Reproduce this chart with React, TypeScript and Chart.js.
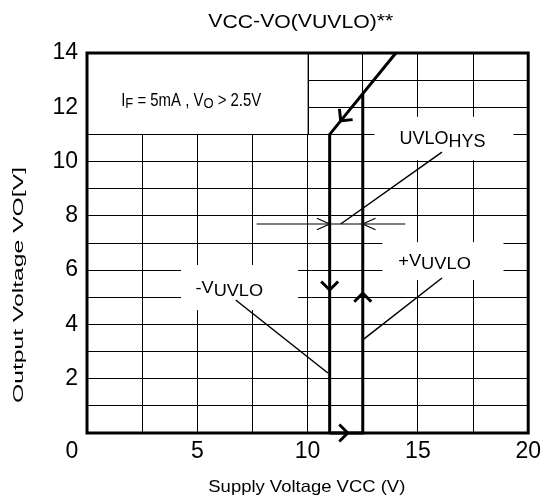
import React, { useEffect, useRef } from 'react';
import { Chart, registerables } from 'chart.js';

Chart.register(...registerables);

const FONT = '"Liberation Sans", Arial, Helvetica, sans-serif';

// ---- data (chart values) ----
const xMin = 0;
const xMax = 20;
const yMin = 0;
const yMax = 14;
const xStep = 2.5;
const yStep = 1;
const xLabelEvery = 5;
const yLabelEvery = 2;

// falling branch (VCC decreasing)
const fallX = [14, 11, 11];
const fallY = [14, 11, 0];
// rising branch (VCC increasing)
const riseX = [11, 12.5, 12.5];
const riseY = [0, 0, 12.5];

// direction arrows on the curve: tip point and direction (data units)
const arrowX = [11, 12.5, 11.82, 11.5];
const arrowY = [5.27, 5.15, 0, 11.5];
const arrowDX = [0, 0, 1, -1];
const arrowDY = [-1, 1, 0, -1];

// hysteresis dimension line
const hysLineX = [7.69, 14.43];
const hysLineY = 7.7;
const hysArrowX = [11, 12.5];
const hysArrowDX = [1, -1];

// leader lines [x1, y1, x2, y2]
const leaderHys = [11.5, 7.7, 16.09, 10.35];
const leaderPlus = [16.09, 5.71, 12.5, 3.43];
const leaderMinus = [6.74, 4.9, 10.92, 2.21];

// condition box
const condBoxX = [0, 10];
const condBoxY = [11, 14];

// text
const titleParts = [
  { t: 'V', sub: false }, { t: 'CC', sub: true }, { t: '-V', sub: false }, { t: 'O', sub: true },
  { t: '(V', sub: false }, { t: 'UVLO', sub: true }, { t: ')**', sub: false },
];
const condParts = [
  { t: 'I', sub: false }, { t: 'F', sub: true }, { t: ' = 5mA , V', sub: false }, { t: 'O', sub: true },
  { t: ' > 2.5V', sub: false },
];
const hysParts = [{ t: 'UVLO', sub: false }, { t: 'HYS', sub: true }];
const plusParts = [{ t: '+V', sub: false }, { t: 'UVLO', sub: true }];
const minusParts = [{ t: '-V', sub: false }, { t: 'UVLO', sub: true }];
const xTitle = 'Supply Voltage VCC (V)';
const yTitle = 'Output Voltage VO[V]';
const originLabel = '0';

type Part = { t: string; sub: boolean };

function drawRich(
  ctx: CanvasRenderingContext2D,
  parts: Part[],
  x: number,
  y: number,
  width: number,
  size: number,
  subScale: number,
  subDy: number,
  rotate = false,
) {
  ctx.save();
  ctx.fillStyle = '#000';
  ctx.textBaseline = 'alphabetic';
  ctx.textAlign = 'left';
  const widths: number[] = [];
  let total = 0;
  for (const p of parts) {
    ctx.font = `${p.sub ? size * subScale : size}px ${FONT}`;
    const w = ctx.measureText(p.t).width;
    widths.push(w);
    total += w;
  }
  ctx.translate(x, y);
  if (rotate) ctx.rotate(-Math.PI / 2);
  ctx.scale(width / total, 1);
  let cx = 0;
  parts.forEach((p, i) => {
    ctx.font = `${p.sub ? size * subScale : size}px ${FONT}`;
    ctx.fillText(p.t, cx, p.sub ? subDy : 0);
    cx += widths[i];
  });
  ctx.restore();
}

function chevron(
  ctx: CanvasRenderingContext2D,
  tx: number,
  ty: number,
  dx: number,
  dy: number,
  len: number,
  half: number,
  lw: number,
) {
  const a = Math.atan2(dy, dx);
  const back = a + Math.PI;
  ctx.save();
  ctx.strokeStyle = '#000';
  ctx.lineWidth = lw;
  ctx.lineJoin = 'miter';
  ctx.lineCap = 'butt';
  ctx.beginPath();
  ctx.moveTo(tx + len * Math.cos(back + half), ty + len * Math.sin(back + half));
  ctx.lineTo(tx, ty);
  ctx.lineTo(tx + len * Math.cos(back - half), ty + len * Math.sin(back - half));
  ctx.stroke();
  ctx.restore();
}

const annotationPlugin = {
  id: 'uvloAnnotations',
  beforeDatasetsDraw(chart: any) {
    const { ctx, scales } = chart;
    const xs = scales.x;
    const ys = scales.y;
    const px = (v: number) => xs.getPixelForValue(v);
    const py = (v: number) => ys.getPixelForValue(v);

    ctx.save();
    // white masks behind labels
    ctx.fillStyle = '#fff';
    const mask = (x1: number, x2: number, y1: number, y2: number) => {
      ctx.fillRect(px(x1), py(y2), px(x2) - px(x1), py(y1) - py(y2));
    };
    mask(13.03, 19.33, 10.05, 11.65);
    mask(13.39, 18.88, 5.64, 7.03);
    mask(4.26, 9.57, 4.53, 6.19);

    // condition box
    const bx = px(condBoxX[0]);
    const by = py(condBoxY[1]);
    const bw = px(condBoxX[1]) - bx;
    const bh = py(condBoxY[0]) - by;
    ctx.fillRect(bx, by, bw, bh);
    ctx.strokeStyle = '#000';
    ctx.lineWidth = 1;
    ctx.strokeRect(Math.round(bx) + 0.5, Math.round(by) + 0.5, Math.round(bw), Math.round(bh));

    drawRich(ctx, condParts, px(1.55), py(12.06), px(7.9) - px(1.55), 17.5, 0.87, 2.7);
    drawRich(ctx, hysParts, px(14.17), py(10.64), px(18.07) - px(14.17), 17.5, 1, 2.7);
    drawRich(ctx, plusParts, px(14.11), py(6.15), px(17.4) - px(14.11), 16.5, 1, 3.3);
    drawRich(ctx, minusParts, px(4.92), py(5.16), px(7.98) - px(4.92), 16.5, 1, 3.4);

    // leader lines
    ctx.strokeStyle = '#000';
    ctx.lineWidth = 1.5;
    for (const l of [leaderHys, leaderPlus, leaderMinus]) {
      ctx.beginPath();
      ctx.moveTo(px(l[0]), py(l[1]));
      ctx.lineTo(px(l[2]), py(l[3]));
      ctx.stroke();
    }
    // hysteresis dimension line + arrows
    ctx.lineWidth = 1.2;
    ctx.beginPath();
    ctx.moveTo(px(hysLineX[0]), py(hysLineY));
    ctx.lineTo(px(hysLineX[1]), py(hysLineY));
    ctx.stroke();
    hysArrowX.forEach((x, i) => {
      chevron(ctx, px(x), py(hysLineY), hysArrowDX[i], 0, 14, (24 * Math.PI) / 180, 1.2);
    });
    ctx.restore();
  },
  afterDatasetsDraw(chart: any) {
    const { ctx, scales, chartArea } = chart;
    const xs = scales.x;
    const ys = scales.y;
    arrowX.forEach((x, i) => {
      const tx = xs.getPixelForValue(x);
      const ty = ys.getPixelForValue(arrowY[i]);
      const dx = xs.getPixelForValue(x + arrowDX[i]) - tx;
      const dy = ys.getPixelForValue(arrowY[i] + arrowDY[i]) - ty;
      chevron(ctx, tx, ty, dx, dy, 12, Math.PI / 4, 3);
    });
    // frame
    ctx.save();
    ctx.strokeStyle = '#000';
    ctx.lineWidth = 3;
    ctx.strokeRect(
      chartArea.left,
      chartArea.top,
      chartArea.right - chartArea.left,
      chartArea.bottom - chartArea.top,
    );
    ctx.restore();
  },
  afterDraw(chart: any) {
    const { ctx } = chart;
    // title
    drawRich(ctx, titleParts, 208.3, 26.7, 185, 19, 1, 1.7);
    // axis titles
    drawRich(ctx, [{ t: xTitle, sub: false }], 208.3, 491.7, 197, 16.5, 1, 0);
    drawRich(ctx, [{ t: yTitle, sub: false }], 22.6, 403, 236, 15.5, 1, 0, true);
    // shared origin label
    ctx.save();
    ctx.fillStyle = '#000';
    ctx.font = `23px ${FONT}`;
    ctx.textAlign = 'center';
    ctx.textBaseline = 'middle';
    ctx.fillText(originLabel, 72, chart.scales.x.top + 5 + (23 * 1.2) / 2);
    ctx.restore();
  },
};

export default function App() {
  const ref = useRef<HTMLCanvasElement>(null);
  useEffect(() => {
    if (!ref.current) return;
    const chart = new Chart(ref.current, {
      type: 'line',
      data: {
        datasets: [
          {
            data: fallX.map((x, i) => ({ x, y: fallY[i] })),
            borderColor: '#000',
            borderWidth: 3,
            pointRadius: 0,
            tension: 0,
            fill: false,
            clip: false as any,
          },
          {
            data: riseX.map((x, i) => ({ x, y: riseY[i] })),
            borderColor: '#000',
            borderWidth: 3,
            pointRadius: 0,
            tension: 0,
            fill: false,
            clip: false as any,
          },
        ],
      },
      options: {
        animation: false,
        responsive: false,
        events: [],
        layout: { padding: { top: 53, right: 14, left: 0, bottom: 0 } },
        plugins: { legend: { display: false }, tooltip: { enabled: false }, title: { display: false } },
        scales: {
          x: {
            type: 'linear',
            min: xMin,
            max: xMax,
            afterFit: (s: any) => {
              s.height = 67;
            },
            ticks: {
              stepSize: xStep,
              autoSkip: false,
              maxRotation: 0,
              padding: 5,
              color: '#000',
              font: { family: FONT, size: 23 },
              callback: (v: any) => (v !== 0 && v % xLabelEvery === 0 ? String(v) : ''),
            },
            grid: { color: '#000', lineWidth: 1, drawTicks: false },
            border: { display: false },
          },
          y: {
            type: 'linear',
            min: yMin,
            max: yMax,
            afterFit: (s: any) => {
              s.width = 87;
            },
            ticks: {
              stepSize: yStep,
              autoSkip: false,
              padding: 9,
              color: '#000',
              font: { family: FONT, size: 23 },
              callback: (v: any) => (v !== 0 && v % yLabelEvery === 0 ? String(v) : ''),
            },
            grid: { color: '#000', lineWidth: 1, drawTicks: false },
            border: { display: false },
          },
        },
      },
      plugins: [annotationPlugin],
    });
    return () => chart.destroy();
  }, []);
  return (
    <div style={{ position: 'fixed', left: 0, top: 0, width: 546, height: 500, background: '#fff' }}>
      <canvas ref={ref} width={546} height={500} />
    </div>
  );
}
